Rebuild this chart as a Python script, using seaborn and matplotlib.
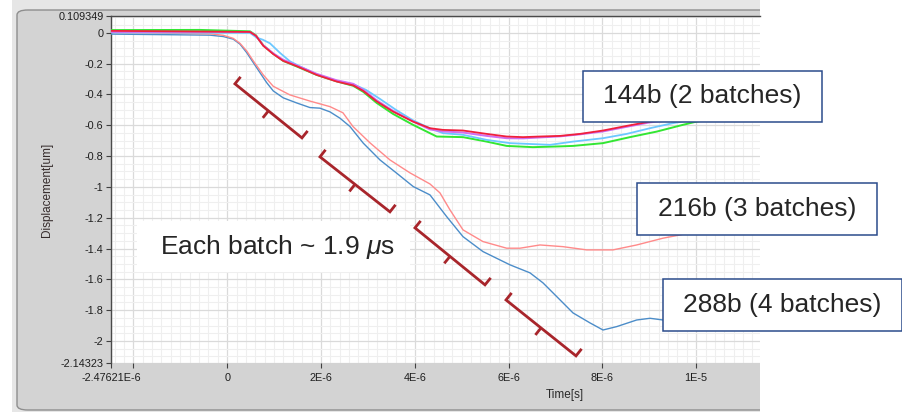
import numpy as np
import pandas as pd
import matplotlib
matplotlib.use("Agg")
import matplotlib.pyplot as plt
import seaborn as sns
from matplotlib.patches import Rectangle, FancyBboxPatch
from matplotlib.ticker import FixedLocator, FixedFormatter, MultipleLocator

# ---- measured displacement traces (time in microseconds, displacement in um) ----
t_288 = [-2.476, -0.367, -0.083, 0.130, 0.273, 0.416, 0.557, 0.699, 0.842, 0.983, 1.196,
         1.482, 1.765, 1.979, 2.192, 2.405, 2.618, 2.902, 3.258, 3.614, 3.968, 4.324, 4.680,
         5.028, 5.454, 6.030, 6.456, 6.733, 7.026, 7.373, 7.736, 8.013, 8.305, 8.731, 9.015,
         9.292, 10.08, 11.36]
d_288 = [-0.008, -0.015, -0.024, -0.041, -0.073, -0.128, -0.193, -0.258, -0.323, -0.377,
         -0.422, -0.455, -0.485, -0.489, -0.513, -0.554, -0.608, -0.716, -0.825, -0.911,
         -0.998, -1.052, -1.193, -1.323, -1.420, -1.506, -1.558, -1.623, -1.712, -1.818,
         -1.883, -1.929, -1.907, -1.864, -1.853, -1.864, -1.850, -1.840]

t_216 = [-2.476, -0.367, -0.083, 0.130, 0.273, 0.416, 0.557, 0.770, 0.983, 1.339, 1.765,
         2.192, 2.469, 2.682, 3.045, 3.471, 3.898, 4.324, 4.537, 4.750, 5.028, 5.454, 5.959,
         6.243, 6.669, 7.160, 7.665, 8.226, 8.731, 9.292, 9.655, 10.50, 11.36]
d_216 = [0.003, -0.006, -0.016, -0.036, -0.068, -0.117, -0.182, -0.273, -0.347, -0.403,
         -0.443, -0.479, -0.519, -0.608, -0.714, -0.825, -0.909, -0.981, -1.039, -1.149,
         -1.279, -1.355, -1.398, -1.398, -1.377, -1.388, -1.409, -1.409, -1.377, -1.333,
         -1.312, -1.253, -1.200]

t_144_green = [-2.476, -0.58, 0.486, 0.614, 0.770, 0.983, 1.196, 1.482, 1.908, 2.335, 2.689,
               2.902, 3.188, 3.535, 3.962, 4.467, 5.028, 5.533, 5.959, 6.520, 7.096, 7.373,
               8.013, 8.588, 9.158, 9.719, 10.01, 10.72, 11.36]
d_144_green = [0.018, 0.019, 0.010, -0.016, -0.081, -0.136, -0.182, -0.218, -0.273, -0.315,
               -0.344, -0.383, -0.455, -0.526, -0.597, -0.673, -0.677, -0.706, -0.734,
               -0.742, -0.737, -0.734, -0.716, -0.677, -0.641, -0.597, -0.576, -0.545, -0.532]

t_144_cyan = [-2.476, 0.486, 0.629, 0.763, 0.913, 1.126, 1.339, 1.552, 1.908, 2.335, 2.689,
              2.959, 3.258, 3.599, 3.962, 4.324, 4.601, 5.028, 5.533, 6.030, 6.883, 7.373,
              8.013, 8.518, 9.015, 9.505, 10.08, 11.36]
d_144_cyan = [0.003, 0.000, -0.031, -0.045, -0.068, -0.130, -0.185, -0.218, -0.269, -0.312,
              -0.334, -0.370, -0.429, -0.500, -0.568, -0.620, -0.651, -0.662, -0.695, -0.716,
              -0.727, -0.706, -0.684, -0.656, -0.619, -0.586, -0.558, -0.532]

t_144_violet = [-2.476, 0.486, 0.614, 0.770, 0.983, 1.196, 1.482, 1.908, 2.335, 2.689, 2.902,
                3.188, 3.535, 3.962, 4.324, 4.601, 5.028, 5.533, 5.959, 6.307, 6.669, 7.096,
                7.522, 8.013, 8.518, 9.015, 10.08, 11.36]
d_144_violet = [0.006, 0.006, -0.019, -0.081, -0.133, -0.175, -0.211, -0.266, -0.308, -0.331,
                -0.370, -0.438, -0.506, -0.575, -0.627, -0.640, -0.647, -0.669, -0.684,
                -0.685, -0.679, -0.672, -0.659, -0.640, -0.610, -0.581, -0.549, -0.529]

t_144_red = [-2.476, 0.486, 0.614, 0.770, 0.983, 1.196, 1.482, 1.908, 2.335, 2.689, 2.902,
             3.188, 3.535, 3.962, 4.324, 4.601, 5.028, 5.533, 5.959, 6.307, 6.669, 7.096,
             7.522, 8.013, 8.518, 9.015, 10.08, 11.36]
d_144_red = [0.013, 0.006, -0.019, -0.084, -0.138, -0.182, -0.216, -0.273, -0.316, -0.341,
             -0.377, -0.445, -0.511, -0.576, -0.619, -0.630, -0.634, -0.656, -0.673, -0.677,
             -0.673, -0.669, -0.656, -0.634, -0.604, -0.576, -0.545, -0.526]

# ---- axis ticks ----
x_tick_values = [-2.47621e-6, -2e-6, 0, 2e-6, 4e-6, 6e-6, 8e-6, 1e-5]
x_tick_labels = ['-2.47621E-6', '', '0', '2E-6', '4E-6', '6E-6', '8E-6', '1E-5']
y_tick_values = [0.109349, 0, -0.2, -0.4, -0.6, -0.8, -1, -1.2, -1.4, -1.6, -1.8, -2, -2.14323]
y_tick_labels = ['0.109349', '0', '-0.2', '-0.4', '-0.6', '-0.8', '-1', '-1.2', '-1.4',
                 '-1.6', '-1.8', '-2', '-2.14323']

# ---- batch brackets: (start time us, start disp, end time us, end disp) ----
bracket_t0 = [0.166, 1.979, 4.004, 5.945]
bracket_d0 = [-0.331, -0.805, -1.266, -1.734]
bracket_t1 = [1.595, 3.471, 5.497, 7.437]
bracket_d1 = [-0.682, -1.162, -1.636, -2.097]

group_labels = ['144b (2 batches)', '216b (3 batches)', '288b (4 batches)']
batch_note = 'Each batch ~ 1.9 $\\mu$s'

sns.set_style('white')
plt.rcParams['font.family'] = ['Liberation Sans', 'DejaVu Sans']
plt.rcParams['mathtext.fontset'] = 'custom'
plt.rcParams['mathtext.rm'] = 'Liberation Sans'
plt.rcParams['mathtext.it'] = 'Liberation Sans:italic'

W, H = 903, 412
fig = plt.figure(figsize=(W / 100, H / 100), dpi=100)
fig.patch.set_facecolor('white')


def fx(px):
    return px / W


def fy(py):
    return 1 - py / H


# window frame around the graph
fig.add_artist(Rectangle((fx(12), 0), fx(760) - fx(12), 1, transform=fig.transFigure,
                         facecolor='#E6E6E6', edgecolor='none', zorder=-10))
fig.add_artist(FancyBboxPatch((fx(17), fy(410)), fx(790) - fx(17), fy(10) - fy(410),
                              boxstyle='round,pad=0,rounding_size=0.012',
                              transform=fig.transFigure, facecolor='#D3D3D3',
                              edgecolor='#8E8E8E', linewidth=1.0, zorder=-9))
fig.add_artist(Rectangle((fx(760), 0), 1 - fx(760), 1, transform=fig.transFigure,
                         facecolor='white', edgecolor='none', zorder=-8))

ax = fig.add_axes([fx(111), fy(363), fx(760) - fx(111), fy(16) - fy(363)])
ax.set_facecolor('white')

x0, x1 = -2.47621e-6, 11.36e-6
y0, y1 = -2.14323, 0.109349

series = [
    (t_288, d_288, '#4C8DC9', 1.0),
    (t_216, d_216, '#FF8A8A', 1.0),
    (t_144_green, d_144_green, '#33E633', 1.4),
    (t_144_cyan, d_144_cyan, '#6CC8FF', 1.3),
    (t_144_violet, d_144_violet, '#CF6FF2', 1.4),
    (t_144_red, d_144_red, '#F0203C', 1.3),
]
for t, d, c, lw in series:
    df = pd.DataFrame({'Time[s]': np.asarray(t) * 1e-6, 'Displacement[um]': d})
    sns.lineplot(data=df, x='Time[s]', y='Displacement[um]', color=c, linewidth=lw,
                 sort=False, estimator=None, ax=ax, zorder=3)

ax.set_xlim(x0, x1)
ax.set_ylim(y0, y1)
ax.set_xlabel('')
ax.set_ylabel('')

ax.xaxis.set_major_locator(FixedLocator(x_tick_values))
ax.xaxis.set_major_formatter(FixedFormatter(x_tick_labels))
ax.yaxis.set_major_locator(FixedLocator(y_tick_values))
ax.yaxis.set_major_formatter(FixedFormatter(y_tick_labels))
ax.xaxis.set_minor_locator(MultipleLocator(0.2e-6))
ax.yaxis.set_minor_locator(MultipleLocator(0.05))

ax.tick_params(axis='both', which='major', direction='out', length=3.8, width=0.8,
               color='#404040', labelsize=7.8, labelcolor='#1E1E1E')
ax.tick_params(axis='y', which='major', pad=1.5)
ax.tick_params(axis='x', which='major', pad=3.5)
ax.tick_params(axis='both', which='minor', length=0)
ax.tick_params(left=True, bottom=True)

ax.grid(which='minor', color='#EFEFEF', linewidth=0.8)
ax.grid(which='major', color='#DADADA', linewidth=0.9)
ax.set_axisbelow(True)

for side in ['right', 'bottom']:
    ax.spines[side].set_visible(False)
for side in ['left', 'top']:
    ax.spines[side].set_color('#4A4A4A')
    ax.spines[side].set_linewidth(1.0)

# axis titles
fig.text(fx(47), fy(190), 'Displacement[um]', rotation=90, ha='center', va='center',
         fontsize=8.5, color='#352B2B')
fig.text(fx(565), fy(395), 'Time[s]', ha='center', va='center', fontsize=8.5,
         color='#2A2A2A')

# batch brackets, drawn in display space so hooks stay perpendicular
fig.canvas.draw()
to_disp = ax.transData
to_data = ax.transData.inverted()
hook = 9.0
for ta, da, tb, db in zip(bracket_t0, bracket_d0, bracket_t1, bracket_d1):
    p0 = to_disp.transform((ta * 1e-6, da))
    p1 = to_disp.transform((tb * 1e-6, db))
    u = (p1 - p0) / np.hypot(*(p1 - p0))
    n = np.array([-u[1], u[0]])
    if n[1] < 0:
        n = -n
    mid = (p0 + p1) / 2
    path = np.array([p0 + n * hook, p0, p1, p1 + n * hook])
    stem = np.array([mid, mid - n * hook])
    for pts in (path, stem):
        dat = to_data.transform(pts)
        ax.plot(dat[:, 0], dat[:, 1], color='#A8252B', linewidth=2.0,
                solid_joinstyle='miter', solid_capstyle='butt', clip_on=False, zorder=6)

# group label boxes
label_boxes = [(583, 71, 822, 122), (637, 183, 877, 235), (663, 279, 902, 331)]
for (l, t, r, b), txt in zip(label_boxes, group_labels):
    fig.add_artist(Rectangle((fx(l), fy(b)), fx(r) - fx(l), fy(t) - fy(b),
                             transform=fig.transFigure, facecolor='white',
                             edgecolor='#2B4C8C', linewidth=1.1, zorder=5))
    fig.text(fx((l + r) / 2), fy((t + b) / 2), txt, ha='center', va='center',
             fontsize=19, color='#262626', zorder=6)

# batch duration note
fig.add_artist(Rectangle((fx(137), fy(272)), fx(410) - fx(137), fy(221) - fy(272),
                         transform=fig.transFigure, facecolor='white', edgecolor='none',
                         zorder=5))
fig.text(fx(160), fy(247), batch_note, ha='left', va='center', fontsize=19,
         color='#262626', zorder=6)

fig.savefig('out.png', dpi=100)
